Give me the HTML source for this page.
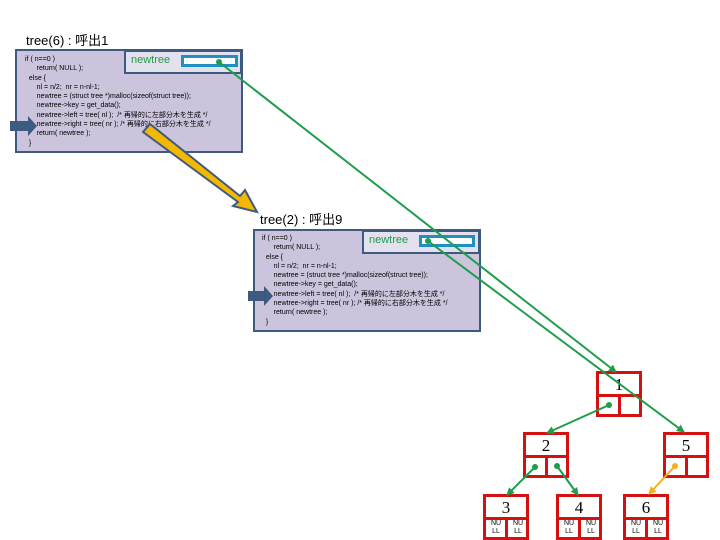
<!DOCTYPE html>
<html><head><meta charset="utf-8"><style>
body{margin:0;width:720px;height:540px;background:#fff;position:relative;overflow:hidden;font-family:"Liberation Sans","Noto Sans CJK JP",sans-serif}
.t{position:absolute;font-size:13px;color:#000}
.box{position:absolute;background:#ccc3dc;border:2px solid #3d5a80;box-sizing:border-box}
.code{position:absolute;font-size:7px;line-height:9.3px;color:#000;white-space:pre;font-family:"Liberation Sans","Noto Sans CJK JP",sans-serif}
.nt{position:absolute;background:#e4e0ee;border:2px solid #3d5a80;box-sizing:border-box;font-size:11px;color:#1e9e4a;padding:2px 0 0 5px}
.fld{position:absolute;background:#fff;border:3px solid #1f8fc4;box-sizing:border-box}
.n{position:absolute;width:46px;height:46px;border:3px solid #d41010;box-sizing:border-box;background:#fff}
.n .k{position:absolute;left:0;top:0;width:40px;height:20px;border-bottom:3px solid #d41010;font-family:"Liberation Serif",serif;font-size:17px;text-align:center;line-height:21px}
.n .d{position:absolute;left:19px;top:21px;width:3px;height:19px;background:#d41010}
.n .nl{position:absolute;top:23px;font-size:7px;line-height:8px;width:18px;text-align:center}
</style></head><body>
<div class="t" style="left:26px;top:30px">tree(6) : 呼出1</div>
<div class="box" style="left:15px;top:49px;width:228px;height:104px"></div>
<div class="code" style="left:25px;top:55px">if ( n==0 )
      return( NULL );
  else {
      nl = n/2;  nr = n-nl-1;
      newtree = (struct tree *)malloc(sizeof(struct tree));
      newtree->key = get_data();
      newtree->left = tree( nl );  /* 再帰的に左部分木を生成 */
      newtree->right = tree( nr ); /* 再帰的に右部分木を生成 */
      return( newtree );
  }</div>
<div class="nt" style="left:124px;top:50px;width:118px;height:24px">newtree</div>
<div class="fld" style="left:181px;top:55px;width:57px;height:12px"></div>

<div class="t" style="left:260px;top:209px">tree(2) : 呼出9</div>
<div class="box" style="left:253px;top:229px;width:228px;height:103px"></div>
<div class="code" style="left:262px;top:234px">if ( n==0 )
      return( NULL );
  else {
      nl = n/2;  nr = n-nl-1;
      newtree = (struct tree *)malloc(sizeof(struct tree));
      newtree->key = get_data();
      newtree->left = tree( nl );  /* 再帰的に左部分木を生成 */
      newtree->right = tree( nr ); /* 再帰的に右部分木を生成 */
      return( newtree );
  }</div>
<div class="nt" style="left:362px;top:230px;width:118px;height:24px">newtree</div>
<div class="fld" style="left:419px;top:235px;width:56px;height:12px"></div>

<div class="n" style="left:596px;top:371px"><div class="k">1</div><div class="d"></div></div>
<div class="n" style="left:523px;top:432px"><div class="k">2</div><div class="d"></div></div>
<div class="n" style="left:663px;top:432px"><div class="k">5</div><div class="d"></div></div>
<div class="n" style="left:483px;top:494px"><div class="k">3</div><div class="d"></div><div class="nl" style="left:1px">NU<br>LL</div><div class="nl" style="left:23px">NU<br>LL</div></div>
<div class="n" style="left:556px;top:494px"><div class="k">4</div><div class="d"></div><div class="nl" style="left:1px">NU<br>LL</div><div class="nl" style="left:23px">NU<br>LL</div></div>
<div class="n" style="left:623px;top:494px"><div class="k">6</div><div class="d"></div><div class="nl" style="left:1px">NU<br>LL</div><div class="nl" style="left:23px">NU<br>LL</div></div>

<svg width="720" height="540" style="position:absolute;left:0;top:0">
<defs>
<marker id="g" markerWidth="8" markerHeight="8" refX="7" refY="4" orient="auto" markerUnits="userSpaceOnUse"><path d="M0,0 L8,4 L0,8 z" fill="#1e9e4a"/></marker>
<marker id="y" markerWidth="8" markerHeight="8" refX="7" refY="4" orient="auto" markerUnits="userSpaceOnUse"><path d="M0,0 L8,4 L0,8 z" fill="#f0b020"/></marker>
</defs>
<g stroke="#1e9e4a" stroke-width="2" fill="none">
<line x1="219" y1="62" x2="616" y2="372" marker-end="url(#g)"/>
<line x1="428" y1="241" x2="684" y2="432" marker-end="url(#g)"/>
<line x1="609" y1="405" x2="547" y2="433" marker-end="url(#g)"/>
<line x1="535" y1="467" x2="507" y2="495" marker-end="url(#g)"/>
<line x1="557" y1="466" x2="578" y2="495" marker-end="url(#g)"/>
</g>
<g fill="#1e9e4a"><circle cx="219" cy="62" r="3"/><circle cx="428" cy="241" r="3"/><circle cx="609" cy="405" r="3"/><circle cx="535" cy="467" r="3"/><circle cx="557" cy="466" r="3"/></g>
<line x1="675" y1="466" x2="649" y2="494" stroke="#f0b020" stroke-width="2" marker-end="url(#y)"/>
<circle cx="675" cy="466" r="3" fill="#f0b020"/>
<path d="M10,121 L28,121 L28,116 L37,126 L28,136 L28,131 L10,131 z" fill="#3d5a80"/>
<path d="M248,291 L264,291 L264,286 L273,296 L264,306 L264,301 L248,301 z" fill="#3d5a80"/>
<path d="M143,132 L150,124 L240,196 L245,190 L257,212 L233,206 L238,202 z" fill="#f5b800" stroke="#3d5a80" stroke-width="2"/>
</svg>
</body></html>
